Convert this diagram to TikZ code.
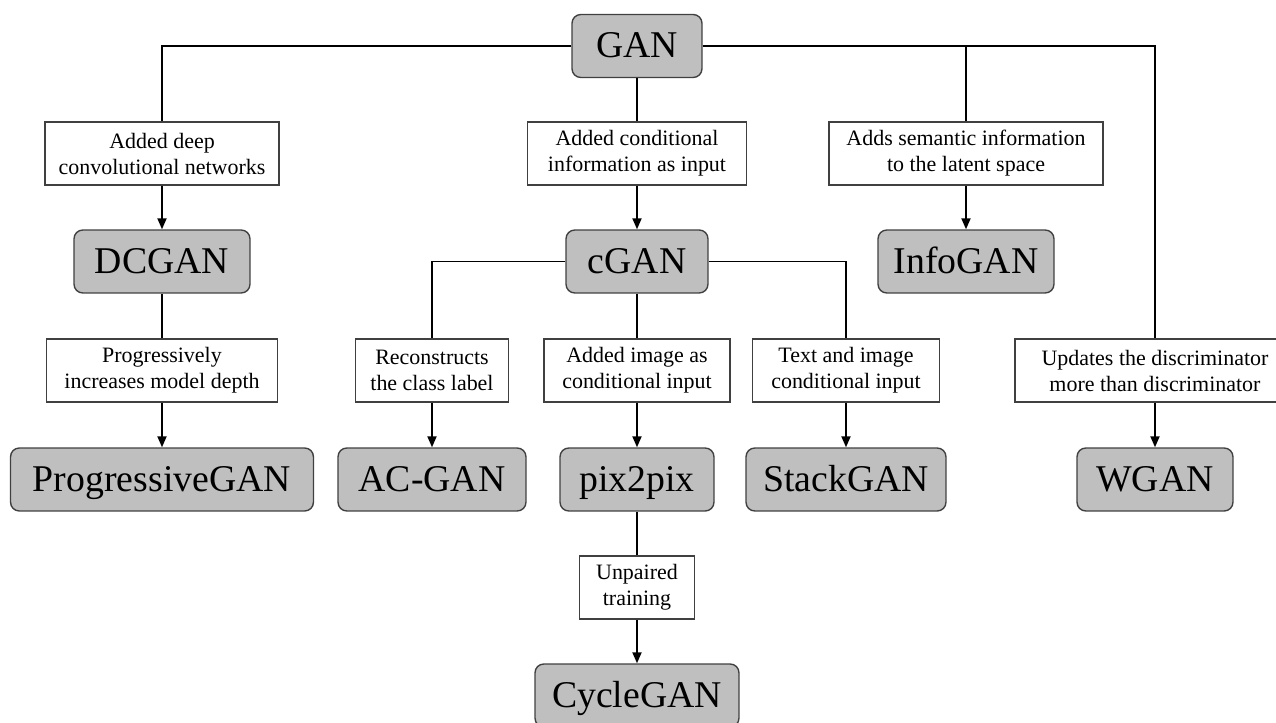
\documentclass[tikz,border=0pt]{standalone}
\usepackage{fontspec}
\setmainfont{Liberation Serif}
\usepackage{xcolor}
\definecolor{cFill}{HTML}{BFBFBF}
\definecolor{cEdge}{HTML}{404040}
\usepackage{tikz}
\usetikzlibrary{positioning, arrows.meta}

\begin{document}
\begin{tikzpicture}[x=0.02cm, y=-0.02cm,
    model/.style={draw=cEdge, line width=0.8pt, rounded corners=5pt, fill=cFill,
                  align=center, minimum height=1.26cm, inner sep=2pt,
                  text height=13.6pt, text depth=0pt,
                  font=\fontsize{21.5}{25}\selectfont},
    note/.style={draw=cEdge, line width=0.7pt, fill=white, align=center,
                 minimum height=1.26cm, inner sep=2pt,
                 font=\fontsize{12.5}{14.8}\selectfont},
    link/.style={line width=1.1pt},
    arr/.style={-{Triangle[length=2.2mm, width=1.8mm]}, line width=1.1pt}
]
\useasboundingbox (0,0) rectangle (1276,723);
\clip (0,0) rectangle (1276,723);

\node[model, minimum width=2.6cm] (gan) at (637,46) {GAN};

\node[note, minimum width=4.68cm] (deep) at (162,153.5) {Added deep\\convolutional networks};
\node[note, minimum width=4.38cm] (cond) at (637,153.5) {Added conditional\\information as input};
\node[note, minimum width=5.48cm] (sem) at (966,153.5) {Adds semantic information\\to the latent space};

\node[model, minimum width=3.52cm] (dcgan) at (162,261.5) {DCGAN};
\node[model, minimum width=2.84cm] (cgan) at (637,261.5) {cGAN};
\node[model, minimum width=3.52cm] (infogan) at (966,261.5) {InfoGAN};

\node[note, minimum width=4.62cm] (prog) at (162,370.5) {Progressively\\increases model depth};
\node[note, minimum width=3.06cm] (recon) at (432,370.5) {Reconstructs\\the class label};
\node[note, minimum width=3.72cm] (img) at (637,370.5) {Added image as\\conditional input};
\node[note, minimum width=3.74cm] (text) at (846,370.5) {Text and image\\conditional input};
\node[note, minimum width=5.6cm] (upd) at (1155,370.5) {Updates the discriminator\\more than discriminator};

\node[model, minimum width=6.06cm] (proggan) at (162,479.5) {ProgressiveGAN};
\node[model, minimum width=3.76cm] (acgan) at (432,479.5) {AC-GAN};
\node[model, minimum width=3.08cm] (pix) at (637,479.5) {pix2pix};
\node[model, minimum width=4.0cm] (stack) at (846,479.5) {StackGAN};
\node[model, minimum width=3.12cm] (wgan) at (1155,479.5) {WGAN};

\node[note, minimum width=2.3cm] (unp) at (637,587.5) {Unpaired\\training};
\node[model, minimum width=4.08cm] (cycle) at (637,695.5) {CycleGAN};

% branches from GAN
\draw[link] (gan.west) -| (deep.north);
\draw[link] (gan.south) -- (cond.north);
\draw[link] (gan.east) -| (sem.north);
\draw[link] (gan.east) -| (upd.north);
\draw[arr] (deep) -- (dcgan);
\draw[arr] (cond) -- (cgan);
\draw[arr] (sem) -- (infogan);

% second level
\draw[link] (dcgan) -- (prog);
\draw[arr] (prog) -- (proggan);
\draw[link] (cgan.west) -| (recon.north);
\draw[link] (cgan.south) -- (img.north);
\draw[link] (cgan.east) -| (text.north);
\draw[arr] (recon) -- (acgan);
\draw[arr] (img) -- (pix);
\draw[arr] (text) -- (stack);
\draw[arr] (upd) -- (wgan);

% third level
\draw[link] (pix) -- (unp);
\draw[arr] (unp) -- (cycle);
\end{tikzpicture}
\end{document}
